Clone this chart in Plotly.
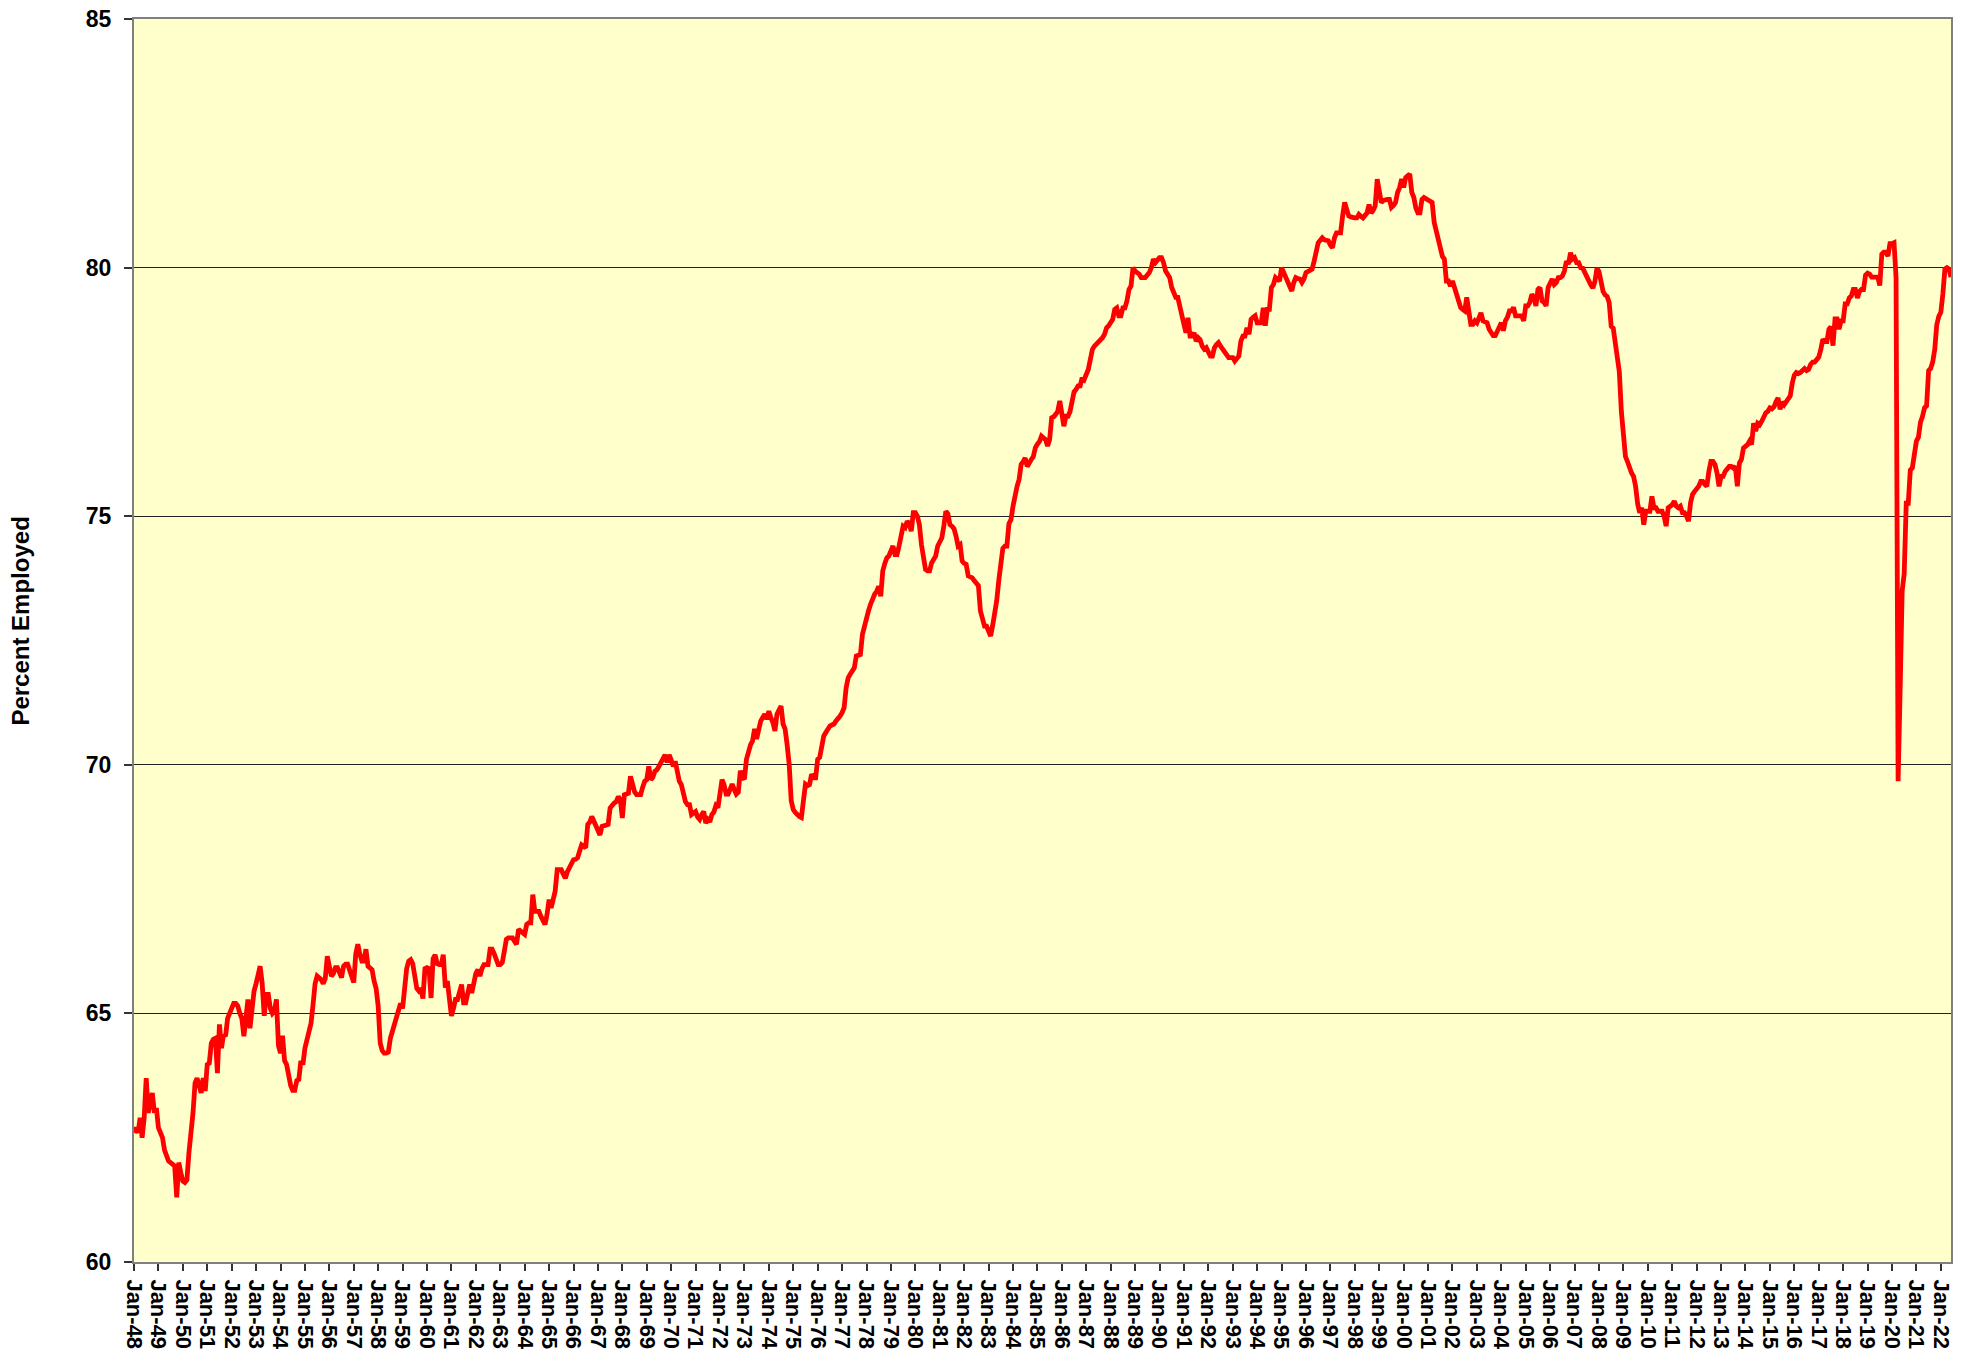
import plotly.graph_objects as go

# Monthly percent employed, Jan-1948 .. Jun-2022
pe_1948_1959 = [
    62.6, 62.7, 62.6, 62.9, 62.5, 62.9, 63.7, 63.0, 63.2, 63.4, 63.0, 63.1,
    62.7, 62.6, 62.5, 62.25, 62.1, 62.03, 62.0, 61.96, 61.93, 61.3, 62.0, 61.8,
    61.63, 61.6, 61.65, 62.2, 62.55, 63.0, 63.6, 63.7, 63.55, 63.4, 63.7, 63.44,
    63.97, 64.0, 64.4, 64.48, 64.5, 63.8, 64.78, 64.3, 64.58, 64.54, 64.9, 65.0,
    65.1, 65.2, 65.2, 65.15, 65.0, 64.9, 64.54, 64.85, 65.28, 64.7, 65.1, 65.45,
    65.6, 65.78, 65.95, 65.6, 64.95, 65.38, 65.38, 65.1, 65.0, 65.05, 65.28, 64.35,
    64.2, 64.55, 64.05, 63.97, 63.75, 63.55, 63.45, 63.45, 63.65, 63.67, 64.04, 63.97,
    64.3, 64.48, 64.6, 64.8, 65.18, 65.6, 65.75, 65.72, 65.68, 65.6, 65.7, 66.15,
    65.95, 65.75, 65.8, 65.92, 65.92, 65.82, 65.72, 65.95, 65.99, 65.99, 65.85, 65.75,
    65.62, 66.2, 66.39, 66.19, 66.05, 66.05, 66.29, 65.95, 65.9, 65.88, 65.65, 65.5,
    65.15, 64.4, 64.25, 64.2, 64.2, 64.22, 64.5, 64.65, 64.8, 64.98, 65.05, 65.2,
    65.1, 65.6, 65.9, 66.05, 66.08, 66.0, 65.8, 65.5, 65.45, 65.5, 65.3, 65.9,
]
pe_1960_1969 = [
    65.92, 65.9, 65.31, 66.1, 66.18, 66.0, 65.98, 65.98, 66.18, 65.52, 65.65, 65.18,
    64.95, 65.1, 65.28, 65.28, 65.4, 65.58, 65.21, 65.21, 65.4, 65.58, 65.41, 65.65,
    65.8, 65.88, 65.75, 65.9, 65.98, 65.98, 65.98, 66.29, 66.29, 66.2, 66.1, 65.98,
    65.98, 66.02, 66.25, 66.49, 66.52, 66.52, 66.52, 66.45, 66.39, 66.69, 66.65, 66.62,
    66.59, 66.79, 66.82, 66.82, 67.39, 67.05, 67.05, 67.05, 66.95, 66.85, 66.79, 66.99,
    67.29, 67.12, 67.3, 67.46, 67.89, 67.89, 67.89, 67.8, 67.72, 67.85, 67.93, 68.05,
    68.09, 68.1, 68.13, 68.26, 68.39, 68.36, 68.33, 68.8, 68.85, 68.96, 68.85, 68.8,
    68.65, 68.59, 68.76, 68.78, 68.8, 68.8, 69.13, 69.2, 69.23, 69.26, 69.36, 69.3,
    68.93, 69.4, 69.42, 69.43, 69.77, 69.6, 69.46, 69.4, 69.4, 69.4, 69.55, 69.67,
    69.7, 69.97, 69.7, 69.75, 69.87, 69.9, 69.97, 70.05, 70.17, 70.2, 70.05, 70.2,
]
pe_1970_1979 = [
    70.1, 69.97, 70.07, 69.8, 69.67, 69.6, 69.4, 69.26, 69.2, 69.2, 69.0, 69.03,
    69.06, 68.95, 68.9, 69.0, 69.06, 68.83, 68.9, 68.85, 69.0, 69.05, 69.18, 69.14,
    69.38, 69.7, 69.6, 69.41, 69.41, 69.5, 69.61, 69.5, 69.41, 69.45, 69.88, 69.75,
    69.71, 70.11, 70.31, 70.4, 70.48, 70.72, 70.52, 70.7, 70.88, 70.95, 71.02, 70.92,
    71.08, 70.95, 70.85, 70.68, 71.02, 71.1, 71.18, 70.82, 70.72, 70.4, 70.01, 69.28,
    69.1, 69.04, 68.98, 68.96, 68.94, 69.2, 69.61, 69.58, 69.6, 69.81, 69.74, 69.74,
    70.11, 70.15, 70.4, 70.58, 70.65, 70.72, 70.78, 70.8, 70.82, 70.88, 70.92, 70.98,
    71.05, 71.15, 71.55, 71.75, 71.82, 71.89, 71.95, 72.19, 72.22, 72.22, 72.62, 72.8,
    72.96, 73.1, 73.23, 73.35, 73.43, 73.49, 73.59, 73.39, 73.9, 74.05, 74.16, 74.2,
    74.3, 74.4, 74.23, 74.23, 74.4, 74.6, 74.8, 74.77, 74.9, 74.85, 74.7, 75.07,
]
pe_1980_1989 = [
    75.07, 75.0, 74.83, 74.43, 74.1, 73.93, 73.9, 73.9, 74.06, 74.15, 74.2, 74.4,
    74.5, 74.56, 74.8, 75.1, 75.05, 74.83, 74.8, 74.75, 74.6, 74.4, 74.43, 74.1,
    74.05, 74.03, 73.8, 73.78, 73.76, 73.7, 73.66, 73.6, 73.09, 72.9, 72.79, 72.79,
    72.65, 72.59, 72.8, 73.05, 73.3, 73.7, 74.1, 74.35, 74.4, 74.4, 74.85, 74.93,
    75.2, 75.47, 75.6, 75.74, 76.04, 76.1, 76.17, 76.0, 76.1, 76.14, 76.2, 76.38,
    76.45, 76.5, 76.61, 76.58, 76.54, 76.41, 76.54, 76.98, 77.0, 77.05, 77.11, 77.32,
    77.0, 76.81, 77.01, 77.01, 77.1, 77.28, 77.5, 77.55, 77.62, 77.62, 77.79, 77.75,
    77.85, 77.95, 78.15, 78.35, 78.42, 78.46, 78.52, 78.55, 78.59, 78.66, 78.79, 78.83,
    78.9, 78.96, 79.16, 79.19, 79.03, 79.03, 79.19, 79.19, 79.33, 79.56, 79.63, 80.0,
    79.93, 79.9, 79.87, 79.8, 79.8, 79.8, 79.85, 79.9, 80.0, 80.17, 80.1, 80.15,
]
pe_1990_1999 = [
    80.2, 80.2, 80.1, 79.93, 79.87, 79.8, 79.6, 79.46, 79.4, 79.4, 79.19, 78.96,
    78.86, 78.69, 78.99, 78.62, 78.62, 78.69, 78.52, 78.59, 78.55, 78.42, 78.36, 78.39,
    78.3, 78.22, 78.22, 78.39, 78.45, 78.49, 78.42, 78.36, 78.3, 78.22, 78.19, 78.19,
    78.19, 78.12, 78.19, 78.22, 78.52, 78.62, 78.62, 78.79, 78.66, 78.96, 79.0, 79.03,
    78.89, 78.89, 78.89, 79.19, 78.83, 79.16, 79.16, 79.6, 79.66, 79.8, 79.75, 79.73,
    80.0, 79.9, 79.83, 79.7, 79.6, 79.53, 79.7, 79.8, 79.78, 79.77, 79.7, 79.77,
    79.9, 79.92, 79.95, 79.97, 80.13, 80.37, 80.5, 80.55, 80.6, 80.56, 80.54, 80.54,
    80.45, 80.4, 80.6, 80.7, 80.7, 80.7, 81.04, 81.31, 81.17, 81.04, 81.02, 81.0,
    81.0, 81.0, 81.07, 81.03, 81.0, 81.05, 81.1, 81.27, 81.1, 81.15, 81.24, 81.78,
    81.48, 81.31, 81.35, 81.37, 81.37, 81.37, 81.21, 81.25, 81.31, 81.51, 81.61, 81.78,
]
pe_2000_2009 = [
    81.61, 81.81, 81.85, 81.88, 81.51, 81.41, 81.2, 81.1, 81.1, 81.37, 81.41, 81.39,
    81.37, 81.35, 81.31, 80.91, 80.74, 80.54, 80.3, 80.23, 80.17, 79.73, 79.73, 79.63,
    79.73, 79.6, 79.53, 79.36, 79.2, 79.16, 79.13, 79.4, 79.1, 78.86, 78.86, 78.93,
    78.89, 79.0, 79.09, 78.93, 78.9, 78.89, 78.76, 78.7, 78.63, 78.63, 78.73, 78.8,
    78.89, 78.73, 78.93, 79.0, 79.13, 79.13, 79.2, 79.03, 79.03, 79.03, 79.03, 78.93,
    79.23, 79.23, 79.3, 79.46, 79.4, 79.23, 79.56, 79.6, 79.33, 79.3, 79.23, 79.6,
    79.7, 79.77, 79.66, 79.7, 79.8, 79.8, 79.83, 79.93, 80.13, 80.07, 80.3, 80.17,
    80.2, 80.1, 80.1, 80.0, 79.99, 79.89, 79.79, 79.75, 79.65, 79.59, 79.72, 79.99,
    79.92, 79.72, 79.52, 79.45, 79.42, 79.3, 78.82, 78.78, 78.45, 78.15, 77.9, 77.1,
    76.5, 76.2, 76.1, 75.94, 75.87, 75.8, 75.6, 75.25, 75.07, 75.17, 74.83, 75.1,
]
pe_2010_2022 = [
    75.1, 75.1, 75.4, 75.17, 75.17, 75.1, 75.1, 75.1, 75.0, 74.8, 75.17, 75.2,
    75.23, 75.3, 75.2, 75.17, 75.2, 75.07, 75.07, 75.0, 74.9, 75.27, 75.44, 75.5,
    75.54, 75.6, 75.7, 75.7, 75.64, 75.6, 75.9, 76.1, 76.1, 76.04, 75.87, 75.6,
    75.8, 75.8, 75.9, 75.95, 76.0, 76.0, 75.97, 76.0, 75.6, 76.07, 76.14, 76.37,
    76.4, 76.44, 76.51, 76.44, 76.87, 76.71, 76.87, 76.84, 76.91, 77.0, 77.08, 77.11,
    77.18, 77.16, 77.2, 77.3, 77.38, 77.15, 77.3, 77.24, 77.3, 77.38, 77.42, 77.68,
    77.84, 77.89, 77.87, 77.89, 77.95, 77.97, 77.93, 77.95, 78.05, 78.1, 78.1, 78.14,
    78.2, 78.35, 78.56, 78.51, 78.51, 78.76, 78.81, 78.43, 78.97, 78.97, 78.76, 78.93,
    78.93, 79.27, 79.27, 79.39, 79.43, 79.56, 79.56, 79.39, 79.52, 79.56, 79.56, 79.85,
    79.89, 79.87, 79.81, 79.81, 79.81, 79.81, 79.64, 80.27, 80.31, 80.31, 80.23, 80.48,
    80.48, 80.5, 79.8, 69.67, 71.5, 73.5, 73.84, 75.26, 75.26, 75.93, 75.97, 76.18,
    76.51, 76.59, 76.89, 77.01, 77.18, 77.22, 77.93, 77.97, 78.1, 78.35, 78.85, 79.02,
    79.1, 79.47, 79.97, 80.0, 79.97, 79.81,
]

month_names = ["Jan", "Feb", "Mar", "Apr", "May", "Jun",
               "Jul", "Aug", "Sep", "Oct", "Nov", "Dec"]
first_year = 1948
y_ticks = [60, 65, 70, 75, 80, 85]
y_title = "Percent Employed"

values = (pe_1948_1959 + pe_1960_1969 + pe_1970_1979 + pe_1980_1989
          + pe_1990_1999 + pe_2000_2009 + pe_2010_2022)

categories = []
for i in range(len(values)):
    yr = first_year + i // 12
    categories.append(f"{month_names[i % 12]}-{yr % 100:02d}")
jan_labels = [c for c in categories if c.startswith("Jan-")]

FONT = "Liberation Sans, Arial, sans-serif"

fig = go.Figure()
fig.add_trace(go.Scatter(
    x=categories, y=values, mode="lines",
    line=dict(color="#FF0000", width=4.8),
    hoverinfo="skip", showlegend=False,
))

fig.update_layout(
    width=1971, height=1356, autosize=False,
    margin=dict(l=134, r=20, t=19, b=94, autoexpand=False),
    paper_bgcolor="white", plot_bgcolor="#FFFFCC",
    font=dict(family=FONT, color="black"),
    hovermode=False,
    xaxis=dict(
        type="category", range=[0, len(values) - 1], automargin=False,
        tickmode="array", tickvals=jan_labels, ticktext=jan_labels,
        tickangle=90, ticks="outside", ticklen=7, tickwidth=1.5, tickcolor="#333333",
        ticklabelstandoff=4, ticklabeloverflow="allow",
        tickfont=dict(family=FONT, size=22, color="black", weight="bold"),
        showline=True, mirror=True, linecolor="#808080", linewidth=2,
        showgrid=False, zeroline=False,
    ),
    yaxis=dict(
        range=[60, 85], tickmode="array", tickvals=y_ticks, automargin=False,
        ticks="outside", ticklen=8, tickwidth=1.5, tickcolor="#333333",
        ticklabelstandoff=8, ticklabeloverflow="allow",
        tickfont=dict(family=FONT, size=23, color="black", weight="bold"),
        showline=True, mirror=True, linecolor="#808080", linewidth=2,
        showgrid=True, gridcolor="#222222", gridwidth=1, zeroline=False,
    ),
    annotations=[dict(
        text=y_title, textangle=-90, showarrow=False,
        xref="paper", yref="paper", x=-0.0622, y=0.516,
        xanchor="center", yanchor="middle",
        font=dict(family=FONT, size=24, color="black", weight="bold"),
    )],
)

# remove the default page margin so the figure fills the window exactly
fig.write_html(
    "out.html",
    config={"displayModeBar": False},
    post_script="document.body.style.margin='0px';document.body.style.overflow='hidden';",
)
